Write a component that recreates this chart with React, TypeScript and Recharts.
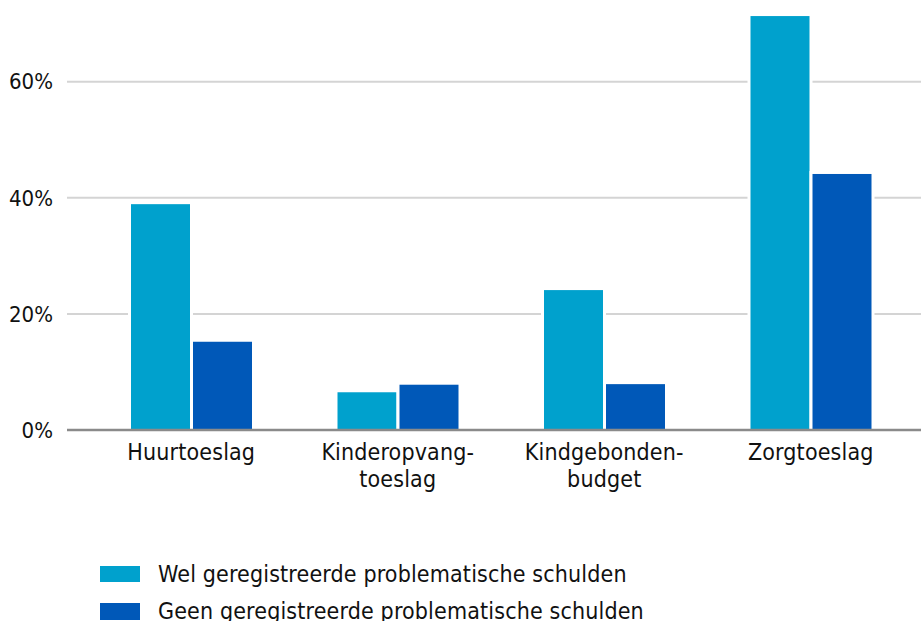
import React from 'react';
import { BarChart, Bar, XAxis, YAxis, CartesianGrid } from 'recharts';

const categories = ['Huurtoeslag', 'Kinderopvang-\ntoeslag', 'Kindgebonden-\nbudget', 'Zorgtoeslag'];
const welSchulden = [38.9, 6.5, 24.1, 71.3];
const geenSchulden = [15.2, 7.8, 7.9, 44.1];
const yTicks = [0, 20, 40, 60];
const seriesNames = ['Wel geregistreerde problematische schulden', 'Geen geregistreerde problematische schulden'];
const seriesColors = ['#00A1CD', '#0058B8'];

const data = categories.map((c, i) => ({ name: c, wel: welSchulden[i], geen: geenSchulden[i] }));

const FONT = '"DejaVu Sans Condensed", "Liberation Sans Narrow", "Noto Sans", sans-serif';
const FS = 23;
const LS = 0.15;

const HaloBar = (props: any) => {
  const { x, y, width, height, fill } = props;
  if (height == null || height <= 0) return null;
  return (
    <g>
      <rect x={x - 3} y={y - 3} width={width + 6} height={height + 3} fill="#ffffff" />
      <rect x={x} y={y} width={width} height={height} fill={fill} />
    </g>
  );
};

const CatTick = (props: any) => {
  const { x, y, payload } = props;
  const lines = String(payload.value).split('\n');
  return (
    <text x={x} y={y + 30} textAnchor="middle" fill="#111" fontSize={FS} fontFamily={FONT} letterSpacing={LS}>
      {lines.map((l, i) => (
        <tspan key={i} x={x} dy={i === 0 ? 0 : 27}>{l}</tspan>
      ))}
    </text>
  );
};

export default function App() {
  return (
    <div style={{ position: 'absolute', left: 0, top: 0, width: 921, height: 621, background: '#fff', fontFamily: FONT, overflow: 'hidden' }}>
      <BarChart
        width={921}
        height={621}
        data={data}
        margin={{ top: 12, right: 0, bottom: 131, left: 0 }}
        barSize={59}
        barGap={3}
      >
        <CartesianGrid horizontal vertical={false} horizontalValues={[20, 40, 60]} stroke="#d4d4d4" strokeWidth={2} />
        <YAxis
          width={67}
          domain={[0, 72]}
          ticks={yTicks}
          tickFormatter={(v: number) => `${v}%`}
          axisLine={false}
          tickLine={false}
          tickSize={0}
          tickMargin={14}
          tick={{ fill: '#111', fontSize: 22, fontFamily: FONT }}
          allowDataOverflow
        />
        <Bar dataKey="wel" name={seriesNames[0]} fill={seriesColors[0]} shape={HaloBar} isAnimationActive={false} />
        <Bar dataKey="geen" name={seriesNames[1]} fill={seriesColors[1]} shape={HaloBar} isAnimationActive={false} />
        <XAxis
          dataKey="name"
          height={60}
          padding={{ left: 21, right: 7 }}
          axisLine={{ stroke: '#8a8a8a', strokeWidth: 2.5 }}
          tickLine={false}
          tickSize={0}
          tickMargin={0}
          tick={<CatTick />}
          interval={0}
        />
      </BarChart>
      <div style={{ position: 'absolute', left: 100, top: 555.5 }}>
        {seriesNames.map((n, i) => (
          <div key={n} style={{ display: 'flex', alignItems: 'center', height: 37.3, position: 'relative' }}>
            <div style={{ width: 40, height: 16.6, background: seriesColors[i], marginRight: 18 }} />
            <span style={{ fontSize: FS, letterSpacing: LS, color: '#111', whiteSpace: 'nowrap', lineHeight: '23px' }}>{n}</span>
          </div>
        ))}
      </div>
    </div>
  );
}
